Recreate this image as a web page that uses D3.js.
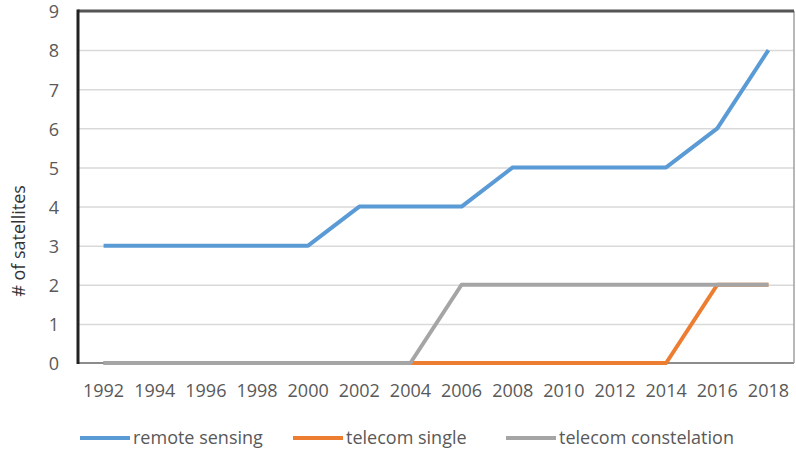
<!DOCTYPE html>
<html>
<head>
    <script src="https://d3js.org/d3.v7.min.js"></script>
    <style>
        body { margin: 0; background: #fff; }
        .tick text, .legend text, .title {
            font-family: "Open Sans", sans-serif;
            font-size: 18px;
            fill: #595959;
        }
        .grid line { stroke: #d9d9d9; stroke-width: 1.5px; }
        .series { fill: none; stroke-width: 4px; stroke-linejoin: round; }
    </style>
</head>
<body>
<div id="chart"></div>
<script>
    // data
    var years = ["1992", "1994", "1996", "1998", "2000", "2002", "2004",
                 "2006", "2008", "2010", "2012", "2014", "2016", "2018"];
    var remoteSensing = [3, 3, 3, 3, 3, 4, 4, 4, 5, 5, 5, 5, 6, 8];
    var telecomSingle = [0, 0, 0, 0, 0, 0, 0, 0, 0, 0, 0, 0, 2, 2];
    var telecomConstelation = [0, 0, 0, 0, 0, 0, 0, 2, 2, 2, 2, 2, 2, 2];
    var yTicks = [0, 1, 2, 3, 4, 5, 6, 7, 8, 9];

    var series = [
        { name: "remote sensing", values: remoteSensing, color: "#5b9bd5" },
        { name: "telecom single", values: telecomSingle, color: "#ed7d31" },
        { name: "telecom constelation", values: telecomConstelation, color: "#a5a5a5" }
    ];

    var width = 796, height = 453;
    var plotLeft = 78, plotRight = 794, plotTop = 11, plotBottom = 363;

    var svg = d3.select("#chart").append("svg")
        .attr("width", width)
        .attr("height", height);

    var x = d3.scaleBand().domain(years).range([plotLeft, plotRight]);
    var y = d3.scaleLinear().domain([0, 9]).range([plotBottom, plotTop]);

    // horizontal gridlines
    svg.append("g")
        .attr("class", "grid")
        .attr("transform", "translate(" + plotLeft + ",0)")
        .call(d3.axisLeft(y).tickValues(yTicks.slice(1)).tickSize(-(plotRight - plotLeft)).tickFormat(""))
        .call(g => g.select(".domain").remove());

    // y axis labels
    svg.append("g")
        .attr("transform", "translate(" + plotLeft + ",0)")
        .call(d3.axisLeft(y).tickValues(yTicks).tickSize(0).tickPadding(19))
        .call(g => g.select(".domain").remove())
        .selectAll("text").attr("dy", "0.38em");

    // x axis labels
    svg.append("g")
        .attr("transform", "translate(0," + plotBottom + ")")
        .call(d3.axisBottom(x).tickSize(0).tickPadding(21))
        .call(g => g.select(".domain").remove());

    // plot frame
    svg.append("line").attr("x1", plotLeft).attr("x2", plotRight).attr("y1", plotBottom).attr("y2", plotBottom)
        .attr("stroke", "#8c8c8c").attr("stroke-width", 2);
    svg.append("line").attr("x1", plotRight).attr("x2", plotRight).attr("y1", plotTop).attr("y2", plotBottom)
        .attr("stroke", "#a0a0a0").attr("stroke-width", 1.5);
    svg.append("line").attr("x1", plotLeft).attr("x2", plotRight).attr("y1", plotTop).attr("y2", plotTop)
        .attr("stroke", "#555").attr("stroke-width", 3);
    svg.append("line").attr("x1", plotLeft).attr("x2", plotLeft).attr("y1", plotTop - 1.5).attr("y2", plotBottom + 1)
        .attr("stroke", "#222").attr("stroke-width", 3);

    // lines
    var line = d3.line()
        .x((d, i) => x(years[i]) + x.bandwidth() / 2)
        .y(d => y(d));

    svg.selectAll(".series")
        .data(series)
        .enter().append("path")
        .attr("class", "series")
        .attr("stroke", d => d.color)
        .attr("d", d => line(d.values));

    // y axis title
    svg.append("text")
        .attr("class", "title")
        .attr("transform", "translate(25,241) rotate(-90)")
        .attr("text-anchor", "middle")
        .style("fill", "#333")
        .text("# of satellites");

    // legend
    var legendX = [80, 293, 506];
    var legend = svg.selectAll(".legend")
        .data(series)
        .enter().append("g")
        .attr("class", "legend")
        .attr("transform", (d, i) => "translate(" + legendX[i] + ",438)");

    legend.append("line")
        .attr("x1", 0).attr("x2", 50)
        .attr("stroke", d => d.color)
        .attr("stroke-width", 4);

    legend.append("text")
        .attr("x", 53)
        .attr("dy", "0.35em")
        .text(d => d.name);
</script>
</body>
</html>
